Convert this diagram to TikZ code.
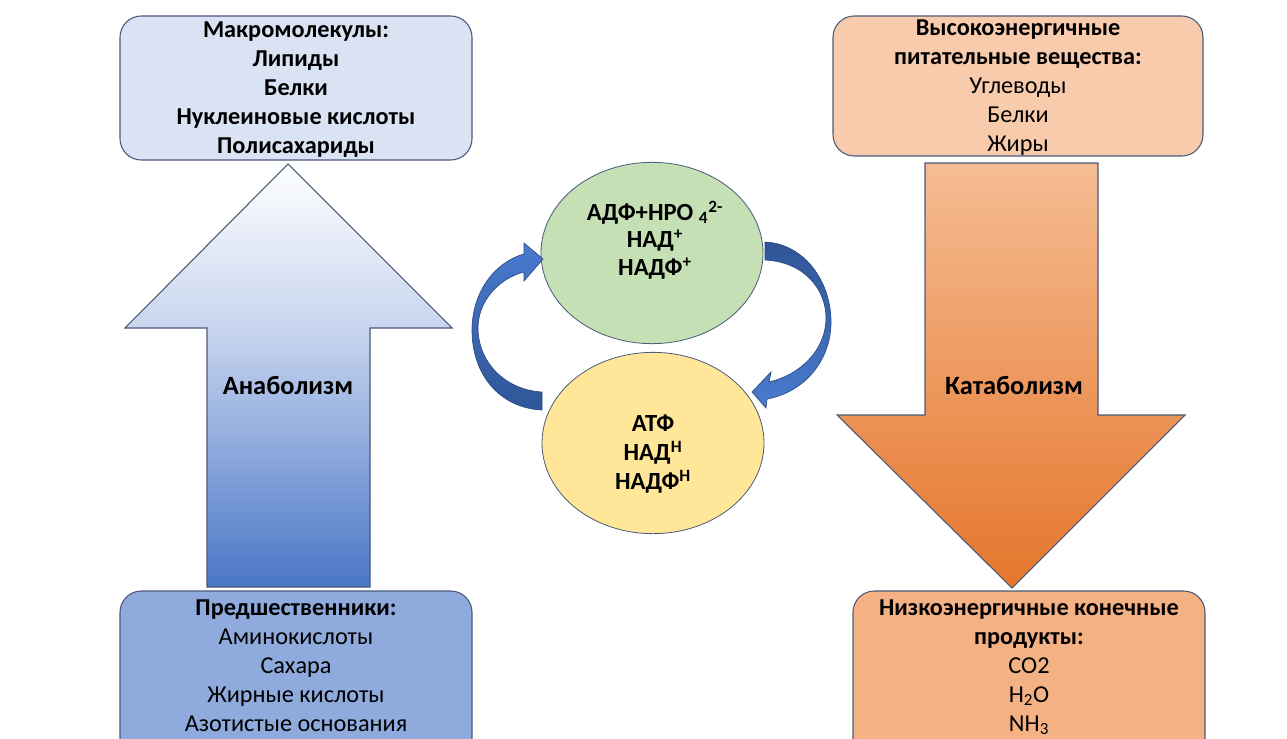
\documentclass[tikz,border=0pt]{standalone}
\usepackage{fontspec}
\setmainfont{Carlito}
\usetikzlibrary{shapes.geometric}

\definecolor{edgec}{HTML}{4A5A78}
\definecolor{boxTL}{HTML}{DAE3F3}
\definecolor{boxTR}{HTML}{F8CBAD}
\definecolor{boxBL}{HTML}{8FAADC}
\definecolor{boxBR}{HTML}{F4B183}
\definecolor{greenc}{HTML}{C5E0B4}
\definecolor{yellowc}{HTML}{FFE699}
\definecolor{anaB}{HTML}{4A76C6}
\definecolor{anaM}{HTML}{C6D4EE}
\definecolor{catT}{HTML}{F5BC92}
\definecolor{catB}{HTML}{E5762C}
\definecolor{cycL}{HTML}{4A7BD0}
\definecolor{cycD}{HTML}{2F5597}
\definecolor{cycE}{HTML}{2B4A80}

% vertical shadings: the path spans 25bp..75bp
\pgfdeclareverticalshading{anashade}{100bp}{color(0bp)=(anaB); color(25bp)=(anaB); color(55bp)=(anaM); color(75bp)=(white); color(100bp)=(white)}
\pgfdeclareverticalshading{catshade}{100bp}{color(0bp)=(catB); color(25bp)=(catB); color(75bp)=(catT); color(100bp)=(catT)}
\pgfdeclareverticalshading{lighttop}{100bp}{color(0bp)=(cycD); color(25bp)=(cycD); color(75bp)=(cycL); color(100bp)=(cycL)}
\pgfdeclareverticalshading{darktop}{100bp}{color(0bp)=(cycL); color(25bp)=(cycL); color(75bp)=(cycD); color(100bp)=(cycD)}

\begin{document}
\begin{tikzpicture}[x=0.75pt,y=-0.75pt,
  panel/.style={draw=edgec, line width=0.8pt, rounded corners=16pt},
  boxtext/.style={align=center, font=\fontsize{18.2}{21.75}\selectfont, inner sep=0pt},
  carrier/.style={ellipse, draw=edgec, line width=0.6pt, minimum width=166.5pt, minimum height=136pt, inner sep=0pt},
  circtext/.style={align=center, inner sep=0pt, font=\fontsize{18.5}{20.6}\selectfont\bfseries},
  bigarrow/.style={draw=edgec, line width=0.8pt},
  cycarrow/.style={draw=cycE, line width=0.5pt},
  arrowlabel/.style={font=\fontsize{19.8}{23}\selectfont\bfseries, inner sep=0pt}]

\useasboundingbox (0,0) rectangle (1287,738);
\clip (0,0) rectangle (1287,738);

% four boxes
\draw[panel, fill=boxTL] (120,16) rectangle (472,160);
\draw[panel, fill=boxTR] (833,16) rectangle (1203,156);
\draw[panel, fill=boxBL] (120,591) rectangle (472,770);
\draw[panel, fill=boxBR] (853,591) rectangle (1205,770);

\node[boxtext] (macro) at (296,90) {\textbf{Макромолекулы:}\\ \textbf{Липиды}\\ \textbf{Белки}\\ \textbf{Нуклеиновые кислоты}\\ \textbf{Полисахариды}};
\node[boxtext] (food) at (1018,88) {\textbf{Высокоэнергичные}\\ \textbf{питательные вещества:}\\ Углеводы\\ Белки\\ Жиры};
\node[boxtext] (prec) at (296,666) {\textbf{Предшественники:}\\ Аминокислоты\\ Сахара\\ Жирные кислоты\\ Азотистые основания};
\node[boxtext] (ends) at (1029,667) {\textbf{Низкоэнергичные конечные}\\ \textbf{продукты:}\\ CO2\\ H\textsubscript{2}O\\ NH\textsubscript{3}};

% anabolism arrow (up)
\path[bigarrow, shading=anashade] (288,164) -- (452,328) -- (370,328) -- (370,587) -- (207,587) -- (207,328) -- (125,328) -- cycle;
\node[arrowlabel] (ana) at (288,385) {Анаболизм};

% catabolism arrow (down)
\path[bigarrow, shading=catshade] (925,163) -- (1098,163) -- (1098,415) -- (1185,415) -- (1012,588) -- (837,415) -- (925,415) -- cycle;
\node[arrowlabel] (cat) at (1014,385) {Катаболизм};

% energy carriers
\node[carrier, fill=greenc] (ox) at (652,253) {};
\node[carrier, fill=yellowc] (red) at (653,443) {};
\node[circtext] (oxt) at (655,240) {АДФ+НРО \textsubscript{4}\textsuperscript{2-}\\ НАД\textsuperscript{+}\\ НАДФ\textsuperscript{+}};
\node[circtext, font=\fontsize{18.5}{22}\selectfont\bfseries] (redt) at (653,454) {АТФ\\ НАД\textsuperscript{Н}\\ НАДФ\textsuperscript{Н}};

% curved arrow on the left: from the yellow carrier up to the green one
\path[cycarrow, shading=lighttop]
  (542,410) .. controls (500,408) and (472,375) .. (472,330)
  .. controls (472,292) and (495,262) .. (524,254)
  -- (524,243) -- (543,259) -- (524,281) -- (524,272)
  .. controls (500,278) and (478,300) .. (478,328)
  .. controls (478,362) and (505,390) .. (542,392) -- cycle;

% curved arrow on the right: from the green carrier down to the yellow one
\path[cycarrow, shading=darktop]
  (765,242) .. controls (805,244) and (831,282) .. (831,322)
  .. controls (831,360) and (805,392) .. (767,399)
  -- (766,408) -- (752,392) -- (771,372) -- (769,382)
  .. controls (800,375) and (826,350) .. (826,318)
  .. controls (826,290) and (805,262) .. (765,260) -- cycle;

\end{tikzpicture}
\end{document}
